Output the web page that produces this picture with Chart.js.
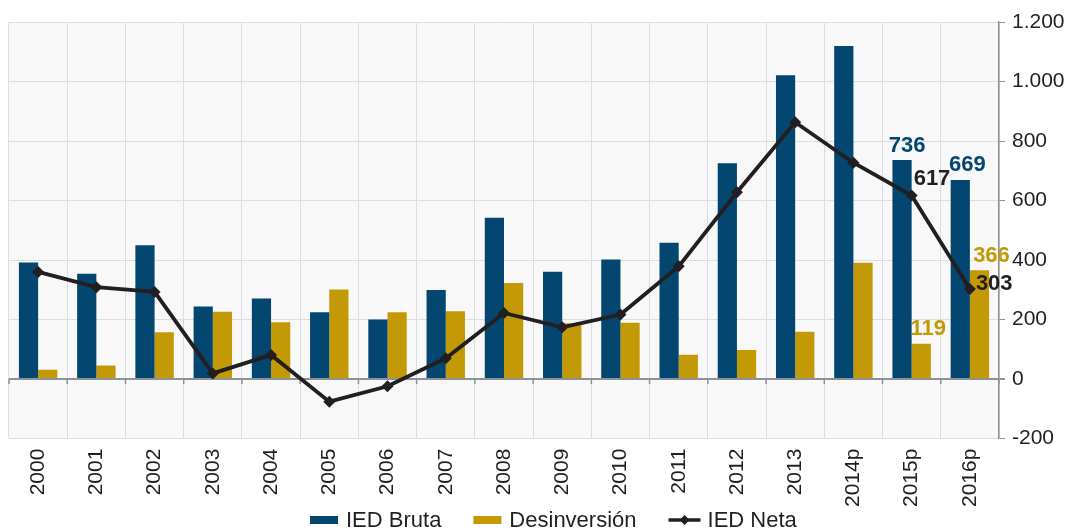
<!DOCTYPE html>
<html>
<head>
<meta charset="utf-8">
<script src="https://cdn.jsdelivr.net/npm/chart.js@4/dist/chart.umd.min.js"></script>
<style>
  html, body { margin: 0; padding: 0; background: #fff; }
  #wrap { width: 1070px; height: 531px; }
</style>
</head>
<body>
<div id="wrap"><canvas id="ied"></canvas></div>
<script>
// Data (millones)
const years = ["2000", "2001", "2002", "2003", "2004", "2005", "2006", "2007", "2008",
  "2009", "2010", "2011", "2012", "2013", "2014p", "2015p", "2016p"];
const iedBruta = [392, 354, 450, 244, 271, 225, 200, 299, 542, 361, 402, 458, 725, 1021, 1119, 736, 669];
const desinversion = [31, 46, 157, 226, 191, 301, 225, 228, 323, 188, 189, 82, 98, 159, 391, 119, 366];
const iedNeta = [360, 309, 293, 19, 81, -76, -24, 70, 222, 174, 217, 379, 628, 863, 727, 617, 303];

const BLUE = "#03466f";
const GOLD = "#c39a06";
const BLACK = "#231f20";
const FONT = "'Liberation Sans', Arial, sans-serif";

// Plot background
const plotBg = {
  id: "plotBg",
  beforeDraw(chart) {
    const { ctx, chartArea: a } = chart;
    ctx.save();
    ctx.fillStyle = "#f8f8f8";
    ctx.fillRect(a.left, a.top, a.right - a.left, a.bottom - a.top);
    ctx.restore();
  }
};

// Small tick marks hanging under the zero line, at the category borders
const zeroTicks = {
  id: "zeroTicks",
  beforeDatasetsDraw(chart) {
    const { ctx, scales } = chart;
    const y0 = scales.y.getPixelForValue(0);
    const n = chart.data.labels.length;
    ctx.save();
    ctx.strokeStyle = "#8d9299";
    ctx.lineWidth = 1.5;
    for (let i = 0; i <= n; i++) {
      const x = scales.x.getPixelForValue(i - 0.5);
      ctx.beginPath();
      ctx.moveTo(x, y0);
      ctx.lineTo(x, y0 + 5);
      ctx.stroke();
    }
    ctx.restore();
  }
};

// Legend drawn by hand (bar swatches + line with diamond)
const bottomLegend = {
  id: "bottomLegend",
  afterDraw(chart) {
    const { ctx } = chart;
    const y = 520;
    let x = 310;
    ctx.save();
    ctx.font = "22px " + FONT;
    ctx.textBaseline = "middle";
    chart.data.datasets.forEach(ds => {
      if (ds.type === "line") {
        ctx.strokeStyle = ds.borderColor;
        ctx.lineWidth = 3.5;
        ctx.beginPath();
        ctx.moveTo(x, y);
        ctx.lineTo(x + 32, y);
        ctx.stroke();
        ctx.fillStyle = ds.borderColor;
        ctx.beginPath();
        ctx.moveTo(x + 16, y - 5); ctx.lineTo(x + 21, y); ctx.lineTo(x + 16, y + 5); ctx.lineTo(x + 11, y);
        ctx.closePath();
        ctx.fill();
        x += 39;
      } else {
        ctx.fillStyle = ds.backgroundColor;
        ctx.fillRect(x, y - 4, 28, 8);
        x += 36;
      }
      ctx.fillStyle = BLACK;
      ctx.textAlign = "left";
      ctx.fillText(ds.label, x, y + 1);
      x += ctx.measureText(ds.label).width + 32;
    });
    ctx.restore();
  }
};

// Value labels for the last two years
const valueLabels = {
  id: "valueLabels",
  afterDatasetsDraw(chart) {
    const { ctx } = chart;
    const labels = [
      { ds: 0, i: 15, color: BLUE, dx: 5, dy: -14, align: "center" },
      { ds: 0, i: 16, color: BLUE, dx: 7, dy: -15, align: "center" },
      { ds: 1, i: 15, color: GOLD, dx: 7, dy: -15, align: "center" },
      { ds: 1, i: 16, color: GOLD, dx: 12, dy: -14, align: "center" },
      { ds: 2, i: 15, color: BLACK, dx: 2, dy: -17, align: "left" },
      { ds: 2, i: 16, color: BLACK, dx: 6, dy: -5, align: "left" }
    ];
    ctx.save();
    ctx.font = "bold 22px " + FONT;
    ctx.textBaseline = "middle";
    for (const l of labels) {
      const el = chart.getDatasetMeta(l.ds).data[l.i];
      const v = chart.data.datasets[l.ds].data[l.i];
      ctx.fillStyle = l.color;
      ctx.textAlign = l.align;
      ctx.fillText(String(v), el.x + l.dx, el.y + l.dy);
    }
    ctx.restore();
  }
};

const ctx = document.getElementById("ied").getContext("2d");
new Chart(ctx, {
  type: "bar",
  data: {
    labels: years,
    datasets: [
      {
        label: "IED Bruta",
        data: iedBruta,
        backgroundColor: BLUE,
        barPercentage: 1,
        categoryPercentage: 0.66,
        order: 1
      },
      {
        label: "Desinversión",
        data: desinversion,
        backgroundColor: GOLD,
        barPercentage: 1,
        categoryPercentage: 0.66,
        order: 1
      },
      {
        type: "line",
        label: "IED Neta",
        data: iedNeta,
        borderColor: BLACK,
        backgroundColor: BLACK,
        borderWidth: 3.8,
        pointStyle: "rectRot",
        pointRadius: 6,
        pointBackgroundColor: BLACK,
        pointBorderWidth: 0,
        tension: 0,
        order: 0
      }
    ]
  },
  options: {
    responsive: true,
    maintainAspectRatio: false,
    animation: false,
    layout: { padding: { top: 22, left: 9, right: 6, bottom: 14 } },
    plugins: {
      legend: { display: false },
      tooltip: { enabled: false }
    },
    scales: {
      x: {
        grid: { color: "#dcdde2", drawTicks: false },
        border: { color: "#dcdde2" },
        ticks: {
          minRotation: 90,
          maxRotation: 90,
          padding: 10,
          color: BLACK,
          font: { family: FONT, size: 21 }
        }
      },
      y: {
        position: "right",
        min: -200,
        max: 1200,
        afterFit(scale) { scale.width = 65; },
        grid: {
          color: c => (c.tick && c.tick.value === 0 ? "#8d9299" : "#dcdde2"),
          lineWidth: c => (c.tick && c.tick.value === 0 ? 2 : 1),
          tickColor: "#8d9299",
          tickLength: 6
        },
        border: { color: "#8d9299", width: 1.5 },
        ticks: {
          stepSize: 200,
          padding: 7,
          color: BLACK,
          font: { family: FONT, size: 21 },
          callback: v => v.toLocaleString("de-DE")
        }
      }
    }
  },
  plugins: [plotBg, zeroTicks, valueLabels, bottomLegend]
});
</script>
</body>
</html>
